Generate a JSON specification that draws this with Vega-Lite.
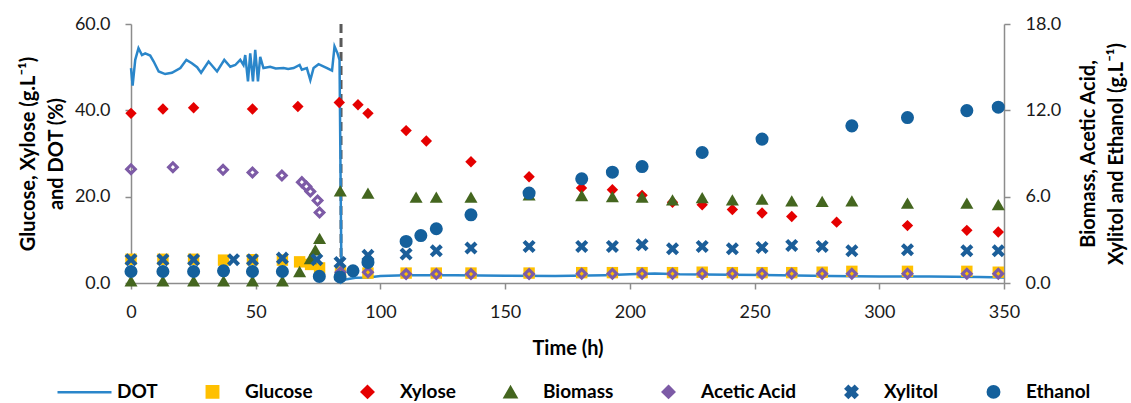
{
  "$schema": "https://vega.github.io/schema/vega-lite/v6.json",
  "width": 873,
  "height": 259,
  "autosize": "none",
  "padding": {"left": 131, "top": 24, "right": 127, "bottom": 120},
  "background": "white",
  "config": {
    "font": "Lato",
    "view": {"stroke": null},
    "axis": {
      "domainColor": "#8C8C8C", "domainWidth": 1.5,
      "tickColor": "#8C8C8C", "tickWidth": 1.5, "tickSize": 6,
      "grid": false, "labelFlush": false,
      "labelFont": "Lato", "labelFontSize": 18, "labelColor": "#1a1a1a", "labelPadding": 15,
      "titleFont": "Lato", "titleFontSize": 20, "titleFontWeight": "bold", "titleColor": "#000000", "titleLineHeight": 28
    }
  },
  "datasets": {
    "d": [
      {"t":0,"series":"DOT","v":49.8},{"t":0.65,"series":"DOT","v":45.7},{"t":1.7,"series":"DOT","v":51.7},{"t":3.0,"series":"DOT","v":54.4},{"t":4.4,"series":"DOT","v":52.8},{"t":5.7,"series":"DOT","v":53.2},{"t":7.7,"series":"DOT","v":52.7},{"t":9.1,"series":"DOT","v":51.3},{"t":11.1,"series":"DOT","v":49.0},{"t":13.7,"series":"DOT","v":48.4},{"t":16.4,"series":"DOT","v":48.7},{"t":19.8,"series":"DOT","v":49.8},{"t":22.2,"series":"DOT","v":51.7},{"t":24.4,"series":"DOT","v":50.9},{"t":26.5,"series":"DOT","v":50.0},{"t":28.1,"series":"DOT","v":48.7},{"t":31.1,"series":"DOT","v":51.3},{"t":34.5,"series":"DOT","v":49.0},{"t":37.4,"series":"DOT","v":51.7},{"t":39.8,"series":"DOT","v":50.1},{"t":41.8,"series":"DOT","v":50.5},{"t":43.8,"series":"DOT","v":51.7},{"t":45.1,"series":"DOT","v":50.5},{"t":45.8,"series":"DOT","v":52.8},{"t":46.9,"series":"DOT","v":46.7},{"t":47.8,"series":"DOT","v":53.2},{"t":48.9,"series":"DOT","v":46.7},{"t":49.8,"series":"DOT","v":54.0},{"t":50.9,"series":"DOT","v":46.7},{"t":51.8,"series":"DOT","v":52.4},{"t":53.1,"series":"DOT","v":49.8},{"t":55.8,"series":"DOT","v":50.1},{"t":58,"series":"DOT","v":49.7},{"t":61.2,"series":"DOT","v":49.8},{"t":63,"series":"DOT","v":49.6},{"t":65.2,"series":"DOT","v":49.8},{"t":67.6,"series":"DOT","v":50.5},{"t":68.5,"series":"DOT","v":49.4},{"t":70.5,"series":"DOT","v":49.8},{"t":71.9,"series":"DOT","v":47.0},{"t":73.2,"series":"DOT","v":49.8},{"t":75.2,"series":"DOT","v":50.7},{"t":78.6,"series":"DOT","v":49.8},{"t":80.6,"series":"DOT","v":49.2},{"t":81.6,"series":"DOT","v":54.8},{"t":82.8,"series":"DOT","v":53.2},{"t":83.6,"series":"DOT","v":51.7},{"t":84.4,"series":"DOT","v":0.2},{"t":86,"series":"DOT","v":0.8},{"t":90,"series":"DOT","v":1.2},{"t":95,"series":"DOT","v":1.3},{"t":100,"series":"DOT","v":1.6},{"t":110,"series":"DOT","v":1.8},{"t":130,"series":"DOT","v":1.8},{"t":150,"series":"DOT","v":1.7},{"t":170,"series":"DOT","v":1.6},{"t":190,"series":"DOT","v":1.8},{"t":200,"series":"DOT","v":2.0},{"t":210,"series":"DOT","v":2.2},{"t":220,"series":"DOT","v":2.0},{"t":240,"series":"DOT","v":1.9},{"t":260,"series":"DOT","v":1.8},{"t":280,"series":"DOT","v":1.6},{"t":300,"series":"DOT","v":1.5},{"t":320,"series":"DOT","v":1.5},{"t":340,"series":"DOT","v":1.4},{"t":350,"series":"DOT","v":1.3},

      {"t":0,"series":"Glucose","v":5.5},{"t":12.8,"series":"Glucose","v":5.5},{"t":25.1,"series":"Glucose","v":5.5},{"t":37.1,"series":"Glucose","v":5.3},{"t":48.7,"series":"Glucose","v":5.4},{"t":60.7,"series":"Glucose","v":5.3},{"t":67.6,"series":"Glucose","v":4.9},{"t":72,"series":"Glucose","v":4.3},{"t":75.6,"series":"Glucose","v":3.5},{"t":84,"series":"Glucose","v":2.5},{"t":95,"series":"Glucose","v":2.3},{"t":110.3,"series":"Glucose","v":2.3},{"t":122.4,"series":"Glucose","v":2.3},{"t":136.3,"series":"Glucose","v":2.3},{"t":159.6,"series":"Glucose","v":2.3},{"t":180.7,"series":"Glucose","v":2.4},{"t":193,"series":"Glucose","v":2.4},{"t":204.9,"series":"Glucose","v":2.4},{"t":217.1,"series":"Glucose","v":2.4},{"t":229,"series":"Glucose","v":2.5},{"t":241.1,"series":"Glucose","v":2.4},{"t":253,"series":"Glucose","v":2.4},{"t":264.9,"series":"Glucose","v":2.4},{"t":277.1,"series":"Glucose","v":2.5},{"t":289,"series":"Glucose","v":2.7},{"t":311.3,"series":"Glucose","v":2.7},{"t":335.1,"series":"Glucose","v":2.7},{"t":347.7,"series":"Glucose","v":2.5},

      {"t":0,"series":"Xylose","v":39.3},{"t":12.8,"series":"Xylose","v":40.3},{"t":25.1,"series":"Xylose","v":40.6},{"t":48.7,"series":"Xylose","v":40.3},{"t":66.9,"series":"Xylose","v":40.9},{"t":83.5,"series":"Xylose","v":41.8},{"t":91,"series":"Xylose","v":41.3},{"t":95,"series":"Xylose","v":39.3},{"t":110.3,"series":"Xylose","v":35.3},{"t":118.4,"series":"Xylose","v":32.9},{"t":136.3,"series":"Xylose","v":28.1},{"t":159.6,"series":"Xylose","v":24.6},{"t":180.6,"series":"Xylose","v":22.0},{"t":193,"series":"Xylose","v":21.6},{"t":204.9,"series":"Xylose","v":20.3},{"t":217.1,"series":"Xylose","v":18.7},{"t":229,"series":"Xylose","v":18.1},{"t":241.1,"series":"Xylose","v":17.0},{"t":253,"series":"Xylose","v":16.2},{"t":264.9,"series":"Xylose","v":15.4},{"t":282.9,"series":"Xylose","v":14.1},{"t":311.3,"series":"Xylose","v":13.3},{"t":335.1,"series":"Xylose","v":12.2},{"t":347.7,"series":"Xylose","v":11.8},

      {"t":0,"series":"Biomass","v":0.15},{"t":12.8,"series":"Biomass","v":0.15},{"t":25.1,"series":"Biomass","v":0.15},{"t":37.1,"series":"Biomass","v":0.15},{"t":48.7,"series":"Biomass","v":0.15},{"t":60.7,"series":"Biomass","v":0.15},{"t":67.6,"series":"Biomass","v":0.8},{"t":71.9,"series":"Biomass","v":1.7},{"t":73.9,"series":"Biomass","v":2.3},{"t":75.6,"series":"Biomass","v":3.1},{"t":83.9,"series":"Biomass","v":6.4},{"t":95,"series":"Biomass","v":6.25},{"t":114.3,"series":"Biomass","v":5.97},{"t":122.4,"series":"Biomass","v":5.97},{"t":136.3,"series":"Biomass","v":5.97},{"t":159.6,"series":"Biomass","v":6.13},{"t":180.7,"series":"Biomass","v":6.08},{"t":193,"series":"Biomass","v":6.01},{"t":204.9,"series":"Biomass","v":5.97},{"t":217.1,"series":"Biomass","v":5.78},{"t":229,"series":"Biomass","v":5.94},{"t":241.1,"series":"Biomass","v":5.78},{"t":253,"series":"Biomass","v":5.83},{"t":264.9,"series":"Biomass","v":5.71},{"t":277.1,"series":"Biomass","v":5.67},{"t":289,"series":"Biomass","v":5.71},{"t":311.3,"series":"Biomass","v":5.55},{"t":335.1,"series":"Biomass","v":5.55},{"t":347.7,"series":"Biomass","v":5.44},

      {"t":0,"series":"Acetic Acid","v":7.91},{"t":16.8,"series":"Acetic Acid","v":8.05},{"t":36.9,"series":"Acetic Acid","v":7.87},{"t":48.7,"series":"Acetic Acid","v":7.68},{"t":60.5,"series":"Acetic Acid","v":7.47},{"t":68.5,"series":"Acetic Acid","v":7.01},{"t":70.3,"series":"Acetic Acid","v":6.71},{"t":71.9,"series":"Acetic Acid","v":6.36},{"t":74.8,"series":"Acetic Acid","v":5.73},{"t":75.6,"series":"Acetic Acid","v":4.9},{"t":84,"series":"Acetic Acid","v":0.75},{"t":95,"series":"Acetic Acid","v":0.74},{"t":110.3,"series":"Acetic Acid","v":0.62},{"t":122.4,"series":"Acetic Acid","v":0.62},{"t":136.3,"series":"Acetic Acid","v":0.62},{"t":159.6,"series":"Acetic Acid","v":0.62},{"t":180.7,"series":"Acetic Acid","v":0.65},{"t":193,"series":"Acetic Acid","v":0.65},{"t":204.9,"series":"Acetic Acid","v":0.65},{"t":217.1,"series":"Acetic Acid","v":0.65},{"t":229,"series":"Acetic Acid","v":0.65},{"t":241.1,"series":"Acetic Acid","v":0.65},{"t":253,"series":"Acetic Acid","v":0.65},{"t":264.9,"series":"Acetic Acid","v":0.65},{"t":277.1,"series":"Acetic Acid","v":0.65},{"t":289,"series":"Acetic Acid","v":0.65},{"t":311.3,"series":"Acetic Acid","v":0.65},{"t":335.1,"series":"Acetic Acid","v":0.65},{"t":347.7,"series":"Acetic Acid","v":0.65},

      {"t":0,"series":"Xylitol","v":1.62},{"t":12.8,"series":"Xylitol","v":1.62},{"t":25.1,"series":"Xylitol","v":1.62},{"t":41.1,"series":"Xylitol","v":1.62},{"t":48.7,"series":"Xylitol","v":1.62},{"t":60.7,"series":"Xylitol","v":1.73},{"t":74.5,"series":"Xylitol","v":1.62},{"t":83.8,"series":"Xylitol","v":1.43},{"t":95,"series":"Xylitol","v":1.92},{"t":110.3,"series":"Xylitol","v":2.01},{"t":122.4,"series":"Xylitol","v":2.24},{"t":136.3,"series":"Xylitol","v":2.43},{"t":159.6,"series":"Xylitol","v":2.54},{"t":180.7,"series":"Xylitol","v":2.54},{"t":193,"series":"Xylitol","v":2.54},{"t":204.9,"series":"Xylitol","v":2.66},{"t":217.1,"series":"Xylitol","v":2.38},{"t":229,"series":"Xylitol","v":2.54},{"t":241.1,"series":"Xylitol","v":2.38},{"t":253,"series":"Xylitol","v":2.47},{"t":264.9,"series":"Xylitol","v":2.61},{"t":277.1,"series":"Xylitol","v":2.54},{"t":289,"series":"Xylitol","v":2.24},{"t":311.3,"series":"Xylitol","v":2.31},{"t":335.1,"series":"Xylitol","v":2.24},{"t":347.7,"series":"Xylitol","v":2.24},

      {"t":0,"series":"Ethanol","v":0.8},{"t":12.8,"series":"Ethanol","v":0.8},{"t":25.1,"series":"Ethanol","v":0.8},{"t":37.1,"series":"Ethanol","v":0.85},{"t":48.7,"series":"Ethanol","v":0.8},{"t":60.7,"series":"Ethanol","v":0.8},{"t":75.5,"series":"Ethanol","v":0.46},{"t":83.8,"series":"Ethanol","v":0.42},{"t":89,"series":"Ethanol","v":0.85},{"t":95,"series":"Ethanol","v":1.43},{"t":110.3,"series":"Ethanol","v":2.89},{"t":116.2,"series":"Ethanol","v":3.3},{"t":122.4,"series":"Ethanol","v":3.77},{"t":136.3,"series":"Ethanol","v":4.74},{"t":159.6,"series":"Ethanol","v":6.25},{"t":180.7,"series":"Ethanol","v":7.24},{"t":193,"series":"Ethanol","v":7.7},{"t":204.9,"series":"Ethanol","v":8.09},{"t":229,"series":"Ethanol","v":9.07},{"t":253,"series":"Ethanol","v":10.0},{"t":289,"series":"Ethanol","v":10.92},{"t":311.3,"series":"Ethanol","v":11.5},{"t":335.1,"series":"Ethanol","v":11.98},{"t":347.7,"series":"Ethanol","v":12.22}
    ],
    "switch": [{"t": 84.2}]
  },
  "layer": [
    {
      "data": {"name": "switch"},
      "mark": {"type": "rule", "color": "#595959", "strokeWidth": 3, "strokeDash": [9, 5]},
      "encoding": {
        "x": {"field": "t", "type": "quantitative", "scale": {"domain": [0, 350], "nice": false}}
      }
    },
    {
      "data": {"name": "d"},
      "layer": [
        {
          "transform": [{"filter": "datum.series === 'DOT'"}],
          "mark": {"type": "line", "strokeWidth": 2.5},
          "encoding": {
            "x": {"field": "t", "type": "quantitative", "scale": {"domain": [0, 350], "nice": false}, "axis": {"values": [0, 50, 100, 150, 200, 250, 300, 350], "title": "Time (h)", "labelPadding": 14, "titlePadding": 17}},
            "y": {"field": "v", "type": "quantitative", "scale": {"domain": [0, 60], "nice": false}, "axis": {"orient": "left", "values": [0, 20, 40, 60], "format": ".1f", "title": ["Glucose, Xylose (g.L⁻¹)", "and DOT (%)"], "titlePadding": 8}},
            "color": {"field": "series", "type": "nominal", "scale": {"domain": ["DOT", "Glucose", "Xylose", "Biomass", "Acetic Acid", "Xylitol", "Ethanol"], "range": ["#2A86CA", "#FFC000", "#E50000", "#44661F", "#7D5BA6", "#1B5E99", "#14609C"]},
              "legend": {"orient": "none", "legendX": -56, "legendY": 358, "direction": "horizontal", "title": null, "padding": 0, "labelFont": "Lato", "labelFontSize": 19, "labelFontWeight": "bold", "labelColor": "#000000", "symbolSize": 160, "labelOffset": 23, "columnPadding": 43, "symbolStrokeWidth": 2.5, "symbolOpacity": 1,
                "encode": {"symbols": {"update": {"size": {"signal": "datum.value === 'DOT' ? 2916 : 130"}, "stroke": {"signal": "datum.value === 'DOT' ? '#2A86CA' : 'transparent'"}}}}}}
          }
        },
        {
          "transform": [{"filter": "datum.series === 'Glucose' || datum.series === 'Xylose'"}],
          "mark": {"type": "point", "filled": true, "opacity": 1, "size": 130},
          "encoding": {
            "x": {"field": "t", "type": "quantitative"},
            "y": {"field": "v", "type": "quantitative"},
            "color": {"field": "series", "type": "nominal"},
            "shape": {"field": "series", "type": "nominal", "scale": {"domain": ["DOT", "Glucose", "Xylose", "Biomass", "Acetic Acid", "Xylitol", "Ethanol"], "range": ["stroke", "square", "diamond", "triangle-up", "M0,-1L1,0L0,1L-1,0ZM0,-0.32L-0.32,0L0,0.32L0.32,0Z", "M-1,-0.55L-0.55,-1L0,-0.45L0.55,-1L1,-0.55L0.45,0L1,0.55L0.55,1L0,0.45L-0.55,1L-1,0.55L-0.45,0Z", "circle"]}}
          }
        }
      ]
    },
    {
      "data": {"name": "d"},
      "transform": [{"filter": "indexof(['Biomass','Acetic Acid','Xylitol','Ethanol'], datum.series) >= 0"}],
      "mark": {"type": "point", "filled": true, "opacity": 1, "size": 170},
      "encoding": {
        "x": {"field": "t", "type": "quantitative"},
        "y": {"field": "v", "type": "quantitative", "scale": {"domain": [0, 18], "nice": false}, "axis": {"orient": "right", "values": [0, 6, 12, 18], "format": ".1f", "title": ["Biomass, Acetic Acid,", "Xylitol and Ethanol (g.L⁻¹)"], "titleAngle": 270, "titleBaseline": "top", "titlePadding": -10}},
        "color": {"field": "series", "type": "nominal"},
        "shape": {"field": "series", "type": "nominal"}
      }
    }
  ],
  "resolve": {"scale": {"y": "independent"}}
}
